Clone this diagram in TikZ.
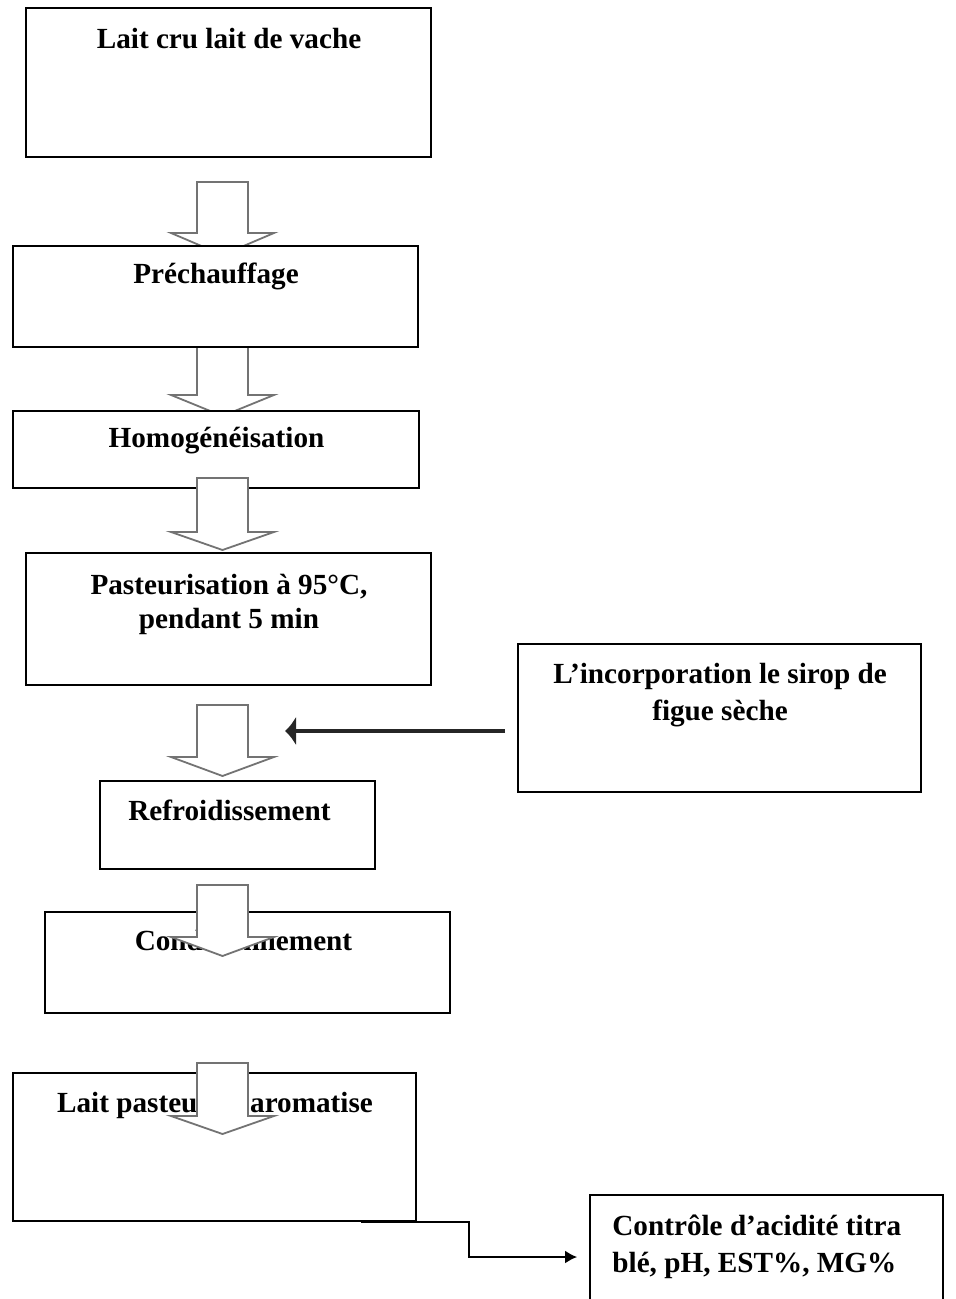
\documentclass[tikz,border=0pt]{standalone}
\usepackage{fontspec}
\setmainfont{Liberation Serif}
\usepackage{tikz}
\usepackage{xcolor}
\usetikzlibrary{arrows.meta}

\begin{document}
\begin{tikzpicture}[x=0.5pt,y=-0.5pt]
\tikzstyle{every node}+=[inner sep=0pt]
\tikzstyle{box}=[draw=black, line width=0.8pt, fill=white, rectangle]
\tikzstyle{lbl}=[anchor=base, font=\fontsize{14.6}{17.5}\selectfont\bfseries]
\tikzstyle{flow}=[draw=black!55, line width=0.9pt, fill=white, line join=miter]
\tikzstyle{feed}=[draw=black!85, line width=1.9pt, -{Latex[length=5.5pt,width=15pt]}]
\tikzstyle{ctl}=[draw=black, line width=1.4pt, -{Latex[length=6pt,width=6.5pt]}, shorten >=6pt]
\path [use as bounding box, clip] (0,0) rectangle (955,1299);
% block arrows lying under the boxes
\draw [flow] (197,182) -- (248,182) -- (248,233) -- (274,233) -- (222.5,255) -- (171,233) -- (197,233) -- cycle;
\draw [flow] (197,340) -- (248,340) -- (248,395) -- (274,395) -- (222.5,416) -- (171,395) -- (197,395) -- cycle;
% boxes
\node [box, minimum width=202.5pt, minimum height=74.5pt] (lait) at (228.5,82.5) {};
\node [box, minimum width=202.5pt, minimum height=50.5pt] (prech) at (215.5,296.5) {};
\node [box, minimum width=203pt, minimum height=38.5pt] (homog) at (216,449.5) {};
\node [box, minimum width=202.5pt, minimum height=66pt] (paste) at (228.5,619) {};
\node [box, minimum width=201.5pt, minimum height=74pt] (incorp) at (719.5,718) {};
\node [box, minimum width=137.5pt, minimum height=44pt] (refroid) at (237.5,825) {};
\node [box, minimum width=202.5pt, minimum height=50.5pt] (condit) at (247.5,962.5) {};
\node [box, minimum width=201.5pt, minimum height=74pt] (lpast) at (214.5,1147) {};
\node [box, minimum width=176.5pt, minimum height=62pt] (ctrl) at (766.5,1257) {};
% texts
\node [lbl] (laitT) at (229,49) {Lait cru lait de vache};
\node [lbl] (prechT) at (216,284) {Préchauffage};
\node [lbl] (homogT) at (216.5,447) {Homogénéisation};
\node [lbl] (pasteA) at (229,594) {Pasteurisation à 95°C,};
\node [lbl] (pasteB) at (229,628) {pendant 5 min};
\node [lbl] (incorpA) at (720,683) {L’incorporation le sirop de};
\node [lbl] (incorpB) at (720,720) {figue sèche};
\node [lbl] (refroidT) at (229.5,820) {Refroidissement};
\node [lbl] (conditT) at (243.5,950) {Conditionnement};
\node [lbl] (lpastT) at (215,1112) {Lait pasteurisé aromatise};
\node [lbl, anchor=base west] (ctrlA) at (612,1235) {Contrôle d’acidité titra};
\node [lbl, anchor=base west] (ctrlB) at (612,1272) {blé, pH, EST\%, MG\%};
% block arrows on top
\draw [flow] (197,478) -- (248,478) -- (248,532) -- (274,532) -- (222.5,550) -- (171,532) -- (197,532) -- cycle;
\draw [flow] (197,705) -- (248,705) -- (248,757) -- (274,757) -- (222.5,776) -- (171,757) -- (197,757) -- cycle;
\draw [flow] (197,885) -- (248,885) -- (248,937) -- (274,937) -- (222.5,956) -- (171,937) -- (197,937) -- cycle;
\draw [flow] (197,1063) -- (248,1063) -- (248,1116) -- (274,1116) -- (222.5,1134) -- (171,1116) -- (197,1116) -- cycle;
% sirop feed
\coordinate (siropA) at (505,731);
\coordinate (siropB) at (285,731);
\draw [feed] (siropA) -- (siropB);
% control
\coordinate (lpout) at (361,1222);
\draw [ctl] (lpout) -- (469,1222) |- (ctrl.west);
\end{tikzpicture}
\end{document}
